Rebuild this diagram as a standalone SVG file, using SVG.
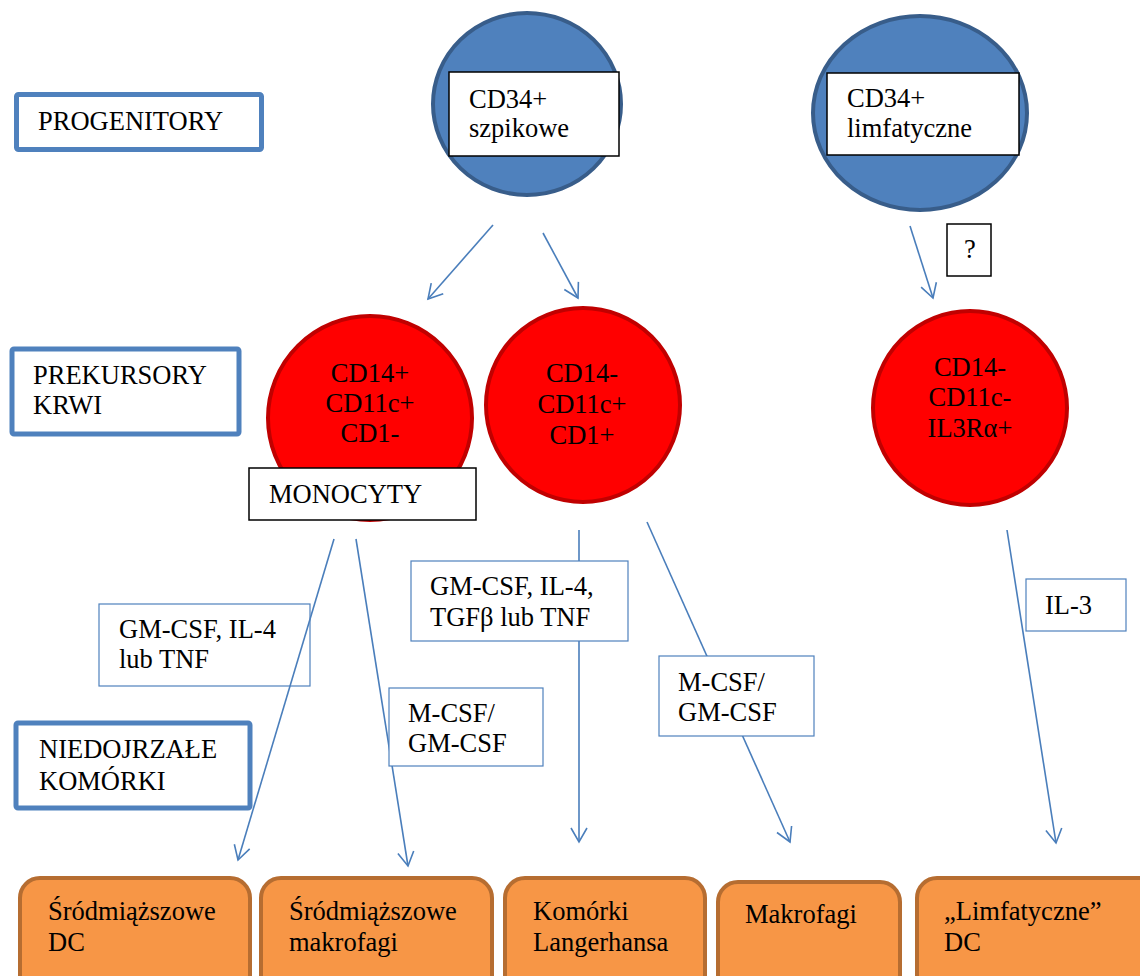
<svg xmlns="http://www.w3.org/2000/svg" width="1140" height="976" viewBox="0 0 1140 976" font-family="'Liberation Serif', 'Times New Roman', 'DejaVu Serif', serif" font-size="26.5">
<defs>
<style>
text{font-family:'Liberation Serif','Times New Roman','DejaVu Serif',serif;font-size:26.5px;fill:#000}
.lvl{fill:#fff;stroke:#4f81bd;stroke-width:5}
.prog{fill:#4f81bd;stroke:#385d8a;stroke-width:4}
.prec{fill:#ff0000;stroke:#c00000;stroke-width:4}
.blk{fill:#fff;stroke:#000;stroke-width:1.5}
.lab{fill:#fff;stroke:#4f81bd;stroke-width:1.2}
.labn{fill:none;stroke:#4f81bd;stroke-width:1.2}
.out{fill:#f79646;stroke:#b66d31;stroke-width:4}
.con{stroke:#4a7ebb;stroke-width:1.6;fill:none}
.mid{text-anchor:middle}
</style>
<marker id="ah" markerUnits="userSpaceOnUse" markerWidth="30" markerHeight="30" refX="15" refY="15" orient="auto" overflow="visible">
<path d="M1,7 L15,15 L1,23" fill="none" stroke="#4a7ebb" stroke-width="1.6"/>
</marker>
</defs>
<rect width="1140" height="976" fill="#fff"/>

<g id="connectors">
<line class="con" x1="493" y1="225" x2="428" y2="299" marker-end="url(#ah)"/>
<line class="con" x1="543" y1="233" x2="578" y2="298" marker-end="url(#ah)"/>
<line class="con" x1="910" y1="226" x2="933" y2="298" marker-end="url(#ah)"/>
<line class="con" x1="334" y1="539" x2="238" y2="860" marker-end="url(#ah)"/>
<line class="con" x1="356" y1="539" x2="408" y2="866" marker-end="url(#ah)"/>
<line class="con" x1="579" y1="530" x2="579" y2="842" marker-end="url(#ah)"/>
<line class="con" x1="647" y1="522" x2="790" y2="842" marker-end="url(#ah)"/>
<line class="con" x1="1007" y1="530" x2="1056" y2="843" marker-end="url(#ah)"/>
</g>

<g id="lvl-progenitory">
<rect class="lvl" x="16.5" y="94.5" width="245" height="55" rx="2"/>
<text x="38" y="130">PROGENITORY</text>
</g>
<g id="lvl-prekursory">
<rect class="lvl" x="12" y="349" width="227" height="85" rx="2"/>
<text x="33" y="384">PREKURSORY</text>
<text x="33" y="414">KRWI</text>
</g>
<g id="lvl-niedojrzale">
<rect class="lvl" x="16" y="723" width="234" height="85" rx="2"/>
<text x="39" y="758">NIEDOJRZAŁE</text>
<text x="39" y="790">KOMÓRKI</text>
</g>

<g id="cd34-szpikowe">
<ellipse class="prog" cx="527" cy="104" rx="94" ry="91"/>
<rect class="blk" x="449" y="72" width="170" height="84"/>
<text x="469" y="108">CD34+</text>
<text x="469" y="137">szpikowe</text>
</g>
<g id="cd34-limfatyczne">
<ellipse class="prog" cx="920" cy="113" rx="107" ry="97"/>
<rect class="blk" x="827" y="73" width="192" height="82"/>
<text x="847" y="107">CD34+</text>
<text x="847" y="137">limfatyczne</text>
</g>
<g id="q-label">
<rect class="blk" x="947" y="224" width="44" height="52"/>
<text x="964" y="258">?</text>
</g>

<g id="prec-cd14plus">
<circle class="prec" cx="370" cy="418" r="102"/>
<text class="mid" x="370" y="382">CD14+</text>
<text class="mid" x="370" y="412">CD11c+</text>
<text class="mid" x="370" y="442">CD1-</text>
</g>
<g id="monocyty">
<rect class="blk" x="249" y="468" width="227" height="52"/>
<text x="269" y="503">MONOCYTY</text>
</g>
<g id="prec-cd14minus">
<circle class="prec" cx="583" cy="405" r="97"/>
<text class="mid" x="582" y="382">CD14-</text>
<text class="mid" x="582" y="413">CD11c+</text>
<text class="mid" x="582" y="444">CD1+</text>
</g>
<g id="prec-il3r">
<circle class="prec" cx="970" cy="408" r="97"/>
<text class="mid" x="970" y="376">CD14-</text>
<text class="mid" x="970" y="406">CD11c-</text>
<text class="mid" x="970" y="437">IL3Rα+</text>
</g>

<g id="lab-gmcsf-il4-tnf">
<rect class="labn" x="99" y="604" width="211" height="82"/>
<text x="119" y="638">GM-CSF, IL-4</text>
<text x="119" y="668">lub TNF</text>
</g>
<g id="lab-mcsf-left">
<rect class="lab" x="389" y="688" width="154" height="78"/>
<text x="408" y="722">M-CSF/</text>
<text x="408" y="752">GM-CSF</text>
</g>
<g id="lab-gmcsf-tgfb">
<rect class="lab" x="411" y="561" width="217" height="80"/>
<text x="430" y="595">GM-CSF, IL-4,</text>
<text x="430" y="626">TGFβ lub TNF</text>
</g>
<g id="lab-mcsf-right">
<rect class="lab" x="659" y="656" width="155" height="80"/>
<text x="678" y="691">M-CSF/</text>
<text x="678" y="721">GM-CSF</text>
</g>
<g id="lab-il3">
<rect class="lab" x="1026" y="579" width="100" height="52"/>
<text x="1045" y="614">IL-3</text>
</g>

<g id="out-srodm-dc">
<rect class="out" x="20" y="878" width="230" height="120" rx="20"/>
<text x="48" y="920">Śródmiąższowe</text>
<text x="48" y="951">DC</text>
</g>
<g id="out-srodm-makrofagi">
<rect class="out" x="261" y="878" width="231" height="120" rx="20"/>
<text x="289" y="920">Śródmiąższowe</text>
<text x="289" y="951">makrofagi</text>
</g>
<g id="out-langerhans">
<rect class="out" x="505" y="878" width="200" height="120" rx="20"/>
<text x="533" y="920">Komórki</text>
<text x="533" y="951">Langerhansa</text>
</g>
<g id="out-makrofagi">
<rect class="out" x="718" y="882" width="182" height="120" rx="20"/>
<text x="745" y="923">Makrofagi</text>
</g>
<g id="out-limf-dc">
<rect class="out" x="917" y="878" width="250" height="120" rx="20"/>
<text x="944" y="920">„Limfatyczne”</text>
<text x="944" y="951">DC</text>
</g>
</svg>
